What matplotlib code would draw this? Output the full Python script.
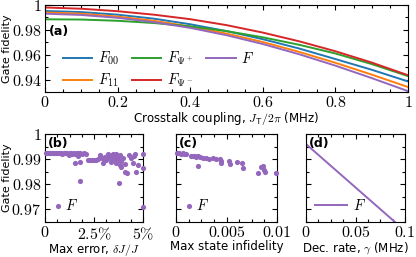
import matplotlib
matplotlib.use("Agg")
import matplotlib.pyplot as plt
from matplotlib.ticker import MultipleLocator, AutoMinorLocator, FuncFormatter

plt.rcParams['mathtext.fontset'] = 'cm'
plt.rcParams['font.family'] = 'DejaVu Sans'

# (a) fidelities vs crosstalk coupling
J = [0.0, 0.1, 0.2, 0.3, 0.4, 0.5, 0.6, 0.7, 0.8, 0.9, 1.0]
F00 = [0.9952, 0.9943, 0.9922, 0.9890, 0.9845, 0.9790, 0.9725, 0.9650, 0.9565, 0.9479, 0.9385]
F11 = [0.9940, 0.9930, 0.9907, 0.9873, 0.9827, 0.9770, 0.9702, 0.9623, 0.9535, 0.9440, 0.9340]
Fpsip = [0.9885, 0.9883, 0.9873, 0.9855, 0.9828, 0.9790, 0.9740, 0.9680, 0.9610, 0.9525, 0.9428]
Fpsim = [0.9980, 0.9970, 0.9950, 0.9922, 0.9886, 0.9838, 0.9778, 0.9708, 0.9628, 0.9537, 0.9435]
Favg = [0.9930, 0.9920, 0.9897, 0.9862, 0.9816, 0.9757, 0.9686, 0.9604, 0.9512, 0.9412, 0.9307]

# (b) fidelity vs max coupling error (%)
b_err = [0.05, 0.12, 0.2, 0.28, 0.35, 0.42, 0.5, 0.58, 0.65, 0.72, 0.8, 0.88, 0.95,
         1.02, 1.1, 1.18, 1.25, 1.32, 1.4, 1.48, 1.55, 1.62, 1.7, 1.8, 1.9, 2.0,
         1.22, 1.68, 1.52, 1.78, 1.78, 2.1,
         2.2, 2.3, 2.4, 2.5, 2.6, 2.7,
         2.8, 2.88, 2.96, 3.05, 3.13, 3.21, 3.3, 3.38, 3.47, 3.55, 3.64, 3.72,
         3.81, 3.89, 3.97, 4.06, 4.18, 4.31, 4.4, 4.48, 4.57, 4.65, 4.74,
         4.99, 4.99, 4.99, 3.0, 3.25, 3.45, 3.6, 3.7, 3.75, 3.85, 3.5, 3.35,
         2.9, 3.15, 3.9, 4.1, 4.55]
b_fid = [0.9925, 0.9924, 0.9925, 0.9923, 0.9925, 0.9924, 0.9923, 0.9925, 0.9924, 0.9923, 0.9925, 0.9922, 0.9924,
         0.9923, 0.9925, 0.9922, 0.9924, 0.9923, 0.9921, 0.9924, 0.9922, 0.9925, 0.9923, 0.9924, 0.9921, 0.9925,
         0.9915, 0.9914, 0.9886, 0.9890, 0.9813, 0.9921,
         0.9897, 0.9898, 0.9896, 0.9897, 0.9898, 0.9900,
         0.9917, 0.9910, 0.9884, 0.9910, 0.9897, 0.9921, 0.9904, 0.9890, 0.9921, 0.9897, 0.9884, 0.9910,
         0.9877, 0.9870, 0.9904, 0.9850, 0.9844, 0.9917, 0.9904, 0.9884, 0.9921, 0.9850, 0.9877,
         0.9922, 0.9866, 0.9710, 0.9900, 0.9915, 0.9908, 0.9920, 0.9897, 0.9804, 0.9917, 0.9918, 0.9905,
         0.9905, 0.9914, 0.9893, 0.9880, 0.9912]

# (c) fidelity vs max state infidelity
c_inf = [0.0001, 0.0003, 0.0005, 0.0007, 0.0008, 0.0010, 0.0015, 0.0017, 0.0019, 0.0020,
         0.0022, 0.0024, 0.0022, 0.0027, 0.0030, 0.0033, 0.0037, 0.0040, 0.0044, 0.0045,
         0.0045, 0.0052, 0.0053, 0.0060, 0.0065, 0.0066, 0.0081, 0.0084, 0.0086, 0.0087,
         0.0088, 0.0099]
c_fid = [0.9923, 0.9924, 0.9922, 0.9923, 0.9921, 0.9920, 0.9914, 0.9912, 0.9914, 0.9910,
         0.9912, 0.9907, 0.9874, 0.9905, 0.9904, 0.9902, 0.9903, 0.9899, 0.9900, 0.9893,
         0.9886, 0.9893, 0.9882, 0.9890, 0.9884, 0.9866, 0.9846, 0.9870, 0.9872, 0.9857,
         0.9850, 0.9846]

# (d) fidelity vs decoherence rate
gamma = [0.0, 0.1]
d_fid = [0.9960, 0.9615]

blue, orange, green, red, purple = '#1f77b4', '#ff7f0e', '#2ca02c', '#d62728', '#9467bd'

fig = plt.figure(figsize=(4.16, 2.57), dpi=100)
W, H = 416, 257


def box(x0, x1, y0, y1):
    return [x0 / W, 1 - y1 / H, (x1 - x0) / W, (y1 - y0) / H]


ax_a = fig.add_axes(box(45, 408, 5, 92))
ax_b = fig.add_axes(box(45, 143, 134, 222))
ax_c = fig.add_axes(box(176, 277, 134, 222))
ax_d = fig.add_axes(box(306, 405, 134, 222))


def fmt(v, p):
    return r'$%g$' % round(v, 6)


def fmt_pct(v, p):
    if abs(v) < 1e-9:
        return r'$0$'
    return r'$%g\%%$' % round(v, 6)


for ax in (ax_a, ax_b, ax_c, ax_d):
    ax.tick_params(which='both', direction='in', top=True, right=True, labelsize=11.5, width=0.8, pad=2.5)
    ax.tick_params(which='major', length=3.5)
    ax.tick_params(which='minor', length=2)
    ax.xaxis.set_minor_locator(AutoMinorLocator(4))
    for s in ax.spines.values():
        s.set_linewidth(0.8)

lw = 1.4
ax_a.plot(J, F00, color=blue, lw=lw, label=r'$F_{00}$')
ax_a.plot(J, F11, color=orange, lw=lw, label=r'$F_{11}$')
ax_a.plot(J, Fpsip, color=green, lw=lw, label=r'$F_{\Psi^+}$')
ax_a.plot(J, Fpsim, color=red, lw=lw, label=r'$F_{\Psi^-}$')
ax_a.plot(J, Favg, color=purple, lw=lw, label=r'$F$')
ax_a.set_xlim(0, 1)
ax_a.set_ylim(0.93, 1.0)
ax_a.xaxis.set_major_locator(MultipleLocator(0.2))
ax_a.yaxis.set_major_locator(MultipleLocator(0.02))
ax_a.yaxis.set_minor_locator(AutoMinorLocator(2))
ax_a.xaxis.set_major_formatter(FuncFormatter(fmt))
ax_a.yaxis.set_major_formatter(FuncFormatter(fmt))
ax_a.set_xlabel(r'Crosstalk coupling, $J_\mathsf{T}/2\pi$ (MHz)', fontsize=8.5, labelpad=0)
ax_a.set_ylabel('Gate fidelity', fontsize=8)
ax_a.yaxis.set_label_coords(-33 / 363, 0.5)
ax_a.text(0.012, 0.70, '(a)', transform=ax_a.transAxes, fontsize=9, fontweight='bold', va='center')
ax_a.legend(ncol=3, loc='lower left', bbox_to_anchor=(0.025, -0.07), frameon=False, fontsize=10.5,
            handlelength=2.0, columnspacing=0.9, handletextpad=0.4, labelspacing=0.3, borderaxespad=0.2)

ax_b.scatter(b_err, b_fid, s=14, color=purple, lw=0, label=r'$F$', clip_on=False, zorder=3)
ax_b.set_xlim(0, 5)
ax_b.xaxis.set_major_locator(MultipleLocator(2.5))
ax_b.xaxis.set_major_formatter(FuncFormatter(fmt_pct))
ax_b.set_xlabel(r'Max error, $\delta J/J$', fontsize=8.5, labelpad=0)
ax_b.set_ylabel('Gate fidelity', fontsize=8)
ax_b.yaxis.set_label_coords(-33 / 98, 0.5)

ax_c.scatter(c_inf, c_fid, s=14, color=purple, lw=0, label=r'$F$', clip_on=False, zorder=3)
ax_c.set_xlim(0, 0.01)
ax_c.xaxis.set_major_locator(MultipleLocator(0.005))
ax_c.xaxis.set_major_formatter(FuncFormatter(fmt))
ax_c.set_xlabel('Max state infidelity', fontsize=8.5, labelpad=0)

ax_d.plot(gamma, d_fid, color=purple, lw=lw, label=r'$F$')
ax_d.set_xlim(0, 0.1)
ax_d.xaxis.set_major_locator(MultipleLocator(0.05))
ax_d.xaxis.set_major_formatter(FuncFormatter(fmt))
ax_d.set_xlabel(r'Dec. rate, $\gamma$ (MHz)', fontsize=8.5, labelpad=0)

for ax, lab in ((ax_b, '(b)'), (ax_c, '(c)'), (ax_d, '(d)')):
    ax.set_ylim(0.965, 1.0)
    ax.yaxis.set_major_locator(MultipleLocator(0.01))
    ax.yaxis.set_minor_locator(AutoMinorLocator(2))
    ax.yaxis.set_major_formatter(FuncFormatter(fmt))
    ax.text(0.03, 0.97, lab, transform=ax.transAxes, fontsize=9, fontweight='bold', va='top')
    if ax is ax_d:
        ax.legend(loc='lower left', frameon=False, fontsize=10.5, handletextpad=0.4,
                  borderaxespad=0.2, handlelength=2.2)
    else:
        ax.legend(loc='lower left', frameon=False, fontsize=10.5, handletextpad=0.1,
                  borderaxespad=0.2, handlelength=0.8, bbox_to_anchor=(-0.02, 0.0))
ax_c.tick_params(labelleft=False)
ax_d.tick_params(labelleft=False)

fig.savefig('out.png', dpi=100)
